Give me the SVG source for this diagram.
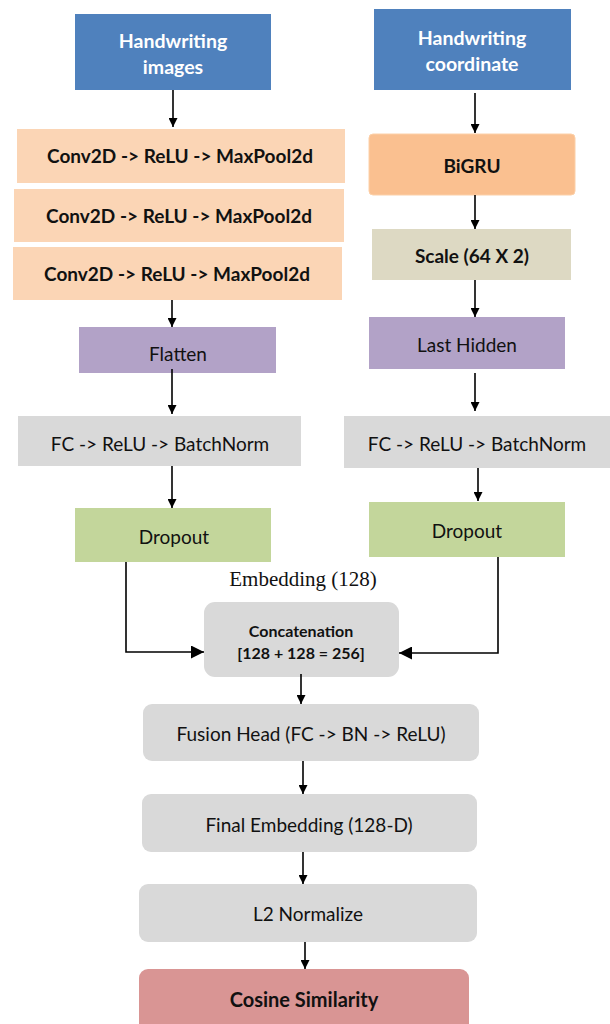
<svg xmlns="http://www.w3.org/2000/svg" width="610" height="1024" viewBox="0 0 610 1024">
<style>
text{font-family:Lato,"Open Sans","Liberation Sans",sans-serif;fill:#111;text-anchor:middle;dominant-baseline:central;font-size:19px}
.b{font-weight:bold}
.w{fill:#fff;font-weight:bold;font-size:19.5px}
.blue{fill:#4f81bd}
.peach{fill:#fbd5b5}
.orange{fill:#fac090;stroke:#fcd0a8;stroke-width:1}
.tan{fill:#ddd9c3}
.purple{fill:#b2a2c7}
.gray{fill:#d9d9d9}
.green{fill:#c3d69b}
.red{fill:#d99594}
.conn path{fill:none;stroke:#000;stroke-width:1.6;marker-end:url(#ah)}
.serif{font-family:"Liberation Serif","Times New Roman",serif;font-size:21px;fill:#111}
.cc{font-size:16px;font-weight:bold}
</style>
<defs>
<marker id="ah" viewBox="0 0 10 10" refX="10" refY="5" markerWidth="9" markerHeight="9" markerUnits="userSpaceOnUse" orient="auto">
<path d="M0,0 L10,5 L0,10 z" fill="#000"/>
</marker>
<marker id="ahl" viewBox="0 0 10 10" refX="10" refY="5" markerWidth="13" markerHeight="13" markerUnits="userSpaceOnUse" orient="auto">
<path d="M0,0 L10,5 L0,10 z" fill="#000"/>
</marker>
</defs>

<g id="hw-images"><rect class="blue" x="75" y="14" width="196" height="76"/><text class="w" x="173" y="40">Handwriting</text><text class="w" x="173" y="66">images</text></g>
<g id="hw-coord"><rect class="blue" x="374" y="9" width="197" height="81"/><text class="w" x="472" y="37">Handwriting</text><text class="w" x="472" y="63">coordinate</text></g>

<g id="conv1"><rect class="peach" x="17" y="129" width="328" height="54"/><text class="b" x="180" y="155">Conv2D -&gt; ReLU -&gt; MaxPool2d</text></g>
<g id="conv2"><rect class="peach" x="14" y="189" width="330" height="53"/><text class="b" x="179" y="215">Conv2D -&gt; ReLU -&gt; MaxPool2d</text></g>
<g id="conv3"><rect class="peach" x="13" y="247" width="329" height="53"/><text class="b" x="177" y="273">Conv2D -&gt; ReLU -&gt; MaxPool2d</text></g>

<g id="bigru"><rect class="orange" x="369" y="134" width="206" height="61" rx="4"/><text class="b" x="472" y="165">BiGRU</text></g>
<g id="scale"><rect class="tan" x="372" y="229" width="199" height="51"/><text class="b" x="472" y="255">Scale (64 X 2)</text></g>

<g id="flatten"><rect class="purple" x="79" y="327" width="197" height="46"/><text x="178" y="353">Flatten</text></g>
<g id="last-hidden"><rect class="purple" x="369" y="317" width="196" height="52"/><text x="467" y="344">Last Hidden</text></g>

<g id="fc-left"><rect class="gray" x="18" y="416" width="283" height="50"/><text x="160" y="443">FC -&gt; ReLU -&gt; BatchNorm</text></g>
<g id="fc-right"><rect class="gray" x="344" y="416" width="266" height="52"/><text x="477" y="443">FC -&gt; ReLU -&gt; BatchNorm</text></g>

<g id="dropout-left"><rect class="green" x="75" y="508" width="196" height="54"/><text x="174" y="536">Dropout</text></g>
<g id="dropout-right"><rect class="green" x="369" y="502" width="196" height="55"/><text x="467" y="530">Dropout</text></g>

<g id="embedding-label"><text class="serif" x="303" y="579">Embedding (128)</text></g>

<g id="concat"><rect class="gray" x="204" y="602" width="195" height="75" rx="11"/><text class="cc" x="301" y="630">Concatenation</text><text class="cc" x="301" y="652">[128 + 128 = 256]</text></g>

<g id="fusion"><rect class="gray" x="143" y="704" width="336" height="57" rx="9"/><text x="311" y="733">Fusion Head (FC -&gt; BN -&gt; ReLU)</text></g>
<g id="final-emb"><rect class="gray" x="142" y="794" width="335" height="58" rx="9"/><text x="309" y="824">Final Embedding (128-D)</text></g>
<g id="l2"><rect class="gray" x="139" y="884" width="338" height="58" rx="9"/><text x="308" y="913">L2 Normalize</text></g>
<g id="cosine"><rect class="red" x="139" y="969" width="330" height="70" rx="9"/><text class="b" x="304" y="999" style="font-size:20px">Cosine Similarity</text></g>

<g id="connectors" class="conn">
<path d="M173,90 V127"/>
<path d="M475,93 V133"/>
<path d="M475,195 V229"/>
<path d="M475,280 V317"/>
<path d="M172,300 V327"/>
<path d="M172,369 V414"/>
<path d="M475,373 V411"/>
<path d="M172,466 V508"/>
<path d="M478,468 V501"/>
<path d="M126,562 V652 H204" style="marker-end:url(#ahl)"/>
<path d="M498,557 V653 H399" style="marker-end:url(#ahl)"/>
<path d="M301,674 V704"/>
<path d="M303,761 V794"/>
<path d="M303,852 V884"/>
<path d="M305,942 V969"/>
</g>
</svg>
